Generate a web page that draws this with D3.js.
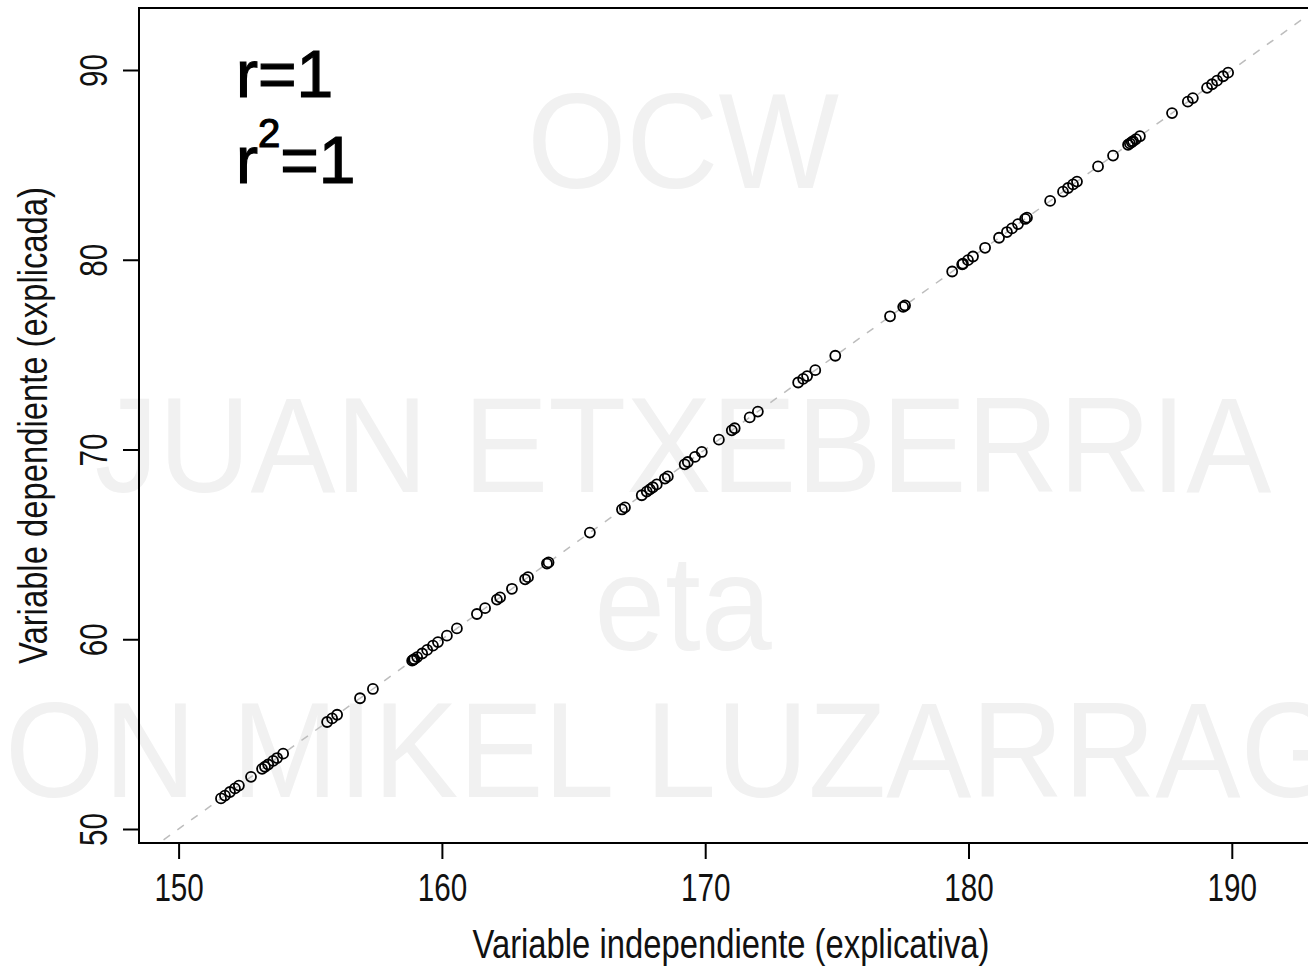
<!DOCTYPE html>
<html>
<head>
<meta charset="utf-8">
<script src="https://cdn.jsdelivr.net/npm/d3@7"></script>
<style>
  html, body { margin: 0; padding: 0; background: #fff; overflow: hidden; }
  svg { display: block; }
  text { font-family: "Liberation Sans", Arial, sans-serif; }
</style>
</head>
<body>
<svg id="chart" width="1308" height="969"></svg>
<script>
// Observed heights (independent variable) and the dependent variable
const xValues = [
  151.61, 151.76, 151.95, 152.14, 152.29, 152.75, 153.17, 153.28, 153.40, 153.59,
  153.74, 153.97, 155.64, 155.83, 156.02, 156.89, 157.38, 158.87, 158.91, 158.95,
  159.06, 159.25, 159.44, 159.66, 159.85, 160.19, 160.57, 161.33, 161.64, 162.09,
  162.21, 162.66, 163.16, 163.27, 163.99, 164.05, 165.62, 166.84, 166.95, 167.59,
  167.78, 167.90, 168.01, 168.16, 168.47, 168.58, 169.22, 169.34, 169.61, 169.87,
  170.52, 171.01, 171.12, 171.69, 172.00, 173.53, 173.72, 173.87, 174.18, 174.94,
  177.02, 177.52, 177.59, 179.38, 179.76, 179.79, 179.98, 180.17, 180.63, 181.16,
  181.46, 181.65, 181.88, 182.15, 182.22, 183.10, 183.59, 183.78, 183.97, 184.12,
  184.92, 185.49, 186.06, 186.13, 186.20, 186.25, 186.36, 186.51, 187.73, 188.33,
  188.52, 189.06, 189.25, 189.44, 189.67, 189.86
];
const yValues = [
  51.61, 51.76, 51.95, 52.14, 52.29, 52.75, 53.17, 53.28, 53.40, 53.59,
  53.74, 53.97, 55.64, 55.83, 56.02, 56.89, 57.38, 58.87, 58.91, 58.95,
  59.06, 59.25, 59.44, 59.66, 59.85, 60.19, 60.57, 61.33, 61.64, 62.09,
  62.21, 62.66, 63.16, 63.27, 63.99, 64.05, 65.62, 66.84, 66.95, 67.59,
  67.78, 67.90, 68.01, 68.16, 68.47, 68.58, 69.22, 69.34, 69.61, 69.87,
  70.52, 71.01, 71.12, 71.69, 72.00, 73.53, 73.72, 73.87, 74.18, 74.94,
  77.02, 77.52, 77.59, 79.38, 79.76, 79.79, 79.98, 80.17, 80.63, 81.16,
  81.46, 81.65, 81.88, 82.15, 82.22, 83.10, 83.59, 83.78, 83.97, 84.12,
  84.92, 85.49, 86.06, 86.13, 86.20, 86.25, 86.36, 86.51, 87.73, 88.33,
  88.52, 89.06, 89.25, 89.44, 89.67, 89.86
];
const xTicks = [150, 160, 170, 180, 190];
const yTicks = [50, 60, 70, 80, 90];

// Fitted regression line y = intercept + slope * x
const fitIntercept = -100;
const fitSlope = 1;

// Correlation annotation
const corrLabel = "r=1";
const detLabelBase = "r";
const detLabelExp = "2";
const detLabelTail = "=1";

const xTitle = "Variable independiente (explicativa)";
const yTitle = "Variable dependiente (explicada)";

// Background watermark lines
const watermarkLines = ["OCW", "JUAN ETXEBERRIA", "eta", "JON MIKEL LUZARRAGA"];
const watermarkBaselines = [188, 492, 650, 797];

// ---- layout ----
const box = { left: 139, top: 8, right: 1323, bottom: 843 };
const svg = d3.select("#chart");

const x = d3.scaleLinear().domain([150, 190]).range([178.6, 1231.8]);
const y = d3.scaleLinear().domain([50, 90]).range([829, 70]);

// watermark (behind everything)
svg.append("g")
  .selectAll("text")
  .data(watermarkLines)
  .join("text")
  .attr("transform", (d, i) => `translate(683,${watermarkBaselines[i]}) scale(0.945,1)`)
  .attr("text-anchor", "middle")
  .attr("font-size", 135)
  .attr("fill", "#f1f1f1")
  .text(d => d);

// clip region for the plot area
svg.append("defs").append("clipPath").attr("id", "plotclip")
  .append("rect")
  .attr("x", box.left).attr("y", box.top)
  .attr("width", box.right - box.left).attr("height", box.bottom - box.top);

// regression line (dashed, light grey)
const lineDomain = [140, 200];
svg.append("line")
  .attr("clip-path", "url(#plotclip)")
  .attr("x1", x(lineDomain[0])).attr("y1", y(fitIntercept + fitSlope * lineDomain[0]))
  .attr("x2", x(lineDomain[1])).attr("y2", y(fitIntercept + fitSlope * lineDomain[1]))
  .attr("stroke", "#bdbdbd")
  .attr("stroke-width", 1.5)
  .attr("stroke-dasharray", "8,9");

// data points: open circles
svg.append("g")
  .attr("clip-path", "url(#plotclip)")
  .selectAll("circle")
  .data(xValues.map((v, i) => [v, yValues[i]]))
  .join("circle")
  .attr("cx", d => x(d[0]))
  .attr("cy", d => y(d[1]))
  .attr("r", 5)
  .attr("fill", "none")
  .attr("stroke", "#000")
  .attr("stroke-width", 1.8);

// plot frame
svg.append("rect")
  .attr("x", box.left).attr("y", box.top)
  .attr("width", box.right - box.left).attr("height", box.bottom - box.top)
  .attr("fill", "none")
  .attr("stroke", "#000")
  .attr("stroke-width", 2);

// x axis
const xAxis = d3.axisBottom(x).tickValues(xTicks).tickSize(16).tickPadding(0).tickFormat(d3.format("d"));
const gx = svg.append("g").attr("transform", `translate(0,${box.bottom})`).call(xAxis);
gx.select(".domain").remove();
gx.selectAll(".tick line").attr("stroke", "#000").attr("stroke-width", 2);
gx.selectAll(".tick text")
  .attr("y", 0).attr("dy", 0)
  .attr("transform", "translate(0,58) scale(0.78,1)")
  .attr("font-size", 38)
  .attr("fill", "#111")
  .attr("font-family", "Liberation Sans, Arial, sans-serif");

// y axis (labels parallel to the axis)
const yAxis = d3.axisLeft(y).tickValues(yTicks).tickSize(16).tickPadding(0).tickFormat(d3.format("d"));
const gy = svg.append("g").attr("transform", `translate(${box.left},0)`).call(yAxis);
gy.select(".domain").remove();
gy.selectAll(".tick line").attr("stroke", "#000").attr("stroke-width", 2);
gy.selectAll(".tick text")
  .attr("x", 0).attr("dy", 0)
  .attr("text-anchor", "middle")
  .attr("transform", "translate(-32,0) rotate(-90) scale(0.78,1)")
  .attr("font-size", 38)
  .attr("fill", "#111")
  .attr("font-family", "Liberation Sans, Arial, sans-serif");

// axis titles
svg.append("text")
  .attr("transform", `translate(${(box.left + box.right) / 2},958) scale(0.82,1)`)
  .attr("text-anchor", "middle")
  .attr("font-size", 40)
  .attr("fill", "#111")
  .text(xTitle);

svg.append("text")
  .attr("transform", `translate(47,${(box.top + box.bottom) / 2}) rotate(-90) scale(0.82,1)`)
  .attr("text-anchor", "middle")
  .attr("font-size", 40)
  .attr("fill", "#111")
  .text(yTitle);

// correlation annotation
svg.append("text")
  .attr("x", 236).attr("y", 97)
  .attr("font-size", 66)
  .attr("fill", "#000")
  .attr("stroke", "#000")
  .attr("stroke-width", 1.2)
  .text(corrLabel);

const det = svg.append("text")
  .attr("x", 236).attr("y", 183)
  .attr("font-size", 66)
  .attr("fill", "#000")
  .attr("stroke", "#000")
  .attr("stroke-width", 1.2);
det.append("tspan").text(detLabelBase);
det.append("tspan").attr("font-size", 40).attr("dy", -36).text(detLabelExp);
det.append("tspan").attr("dy", 36).text(detLabelTail);
</script>
</body>
</html>
